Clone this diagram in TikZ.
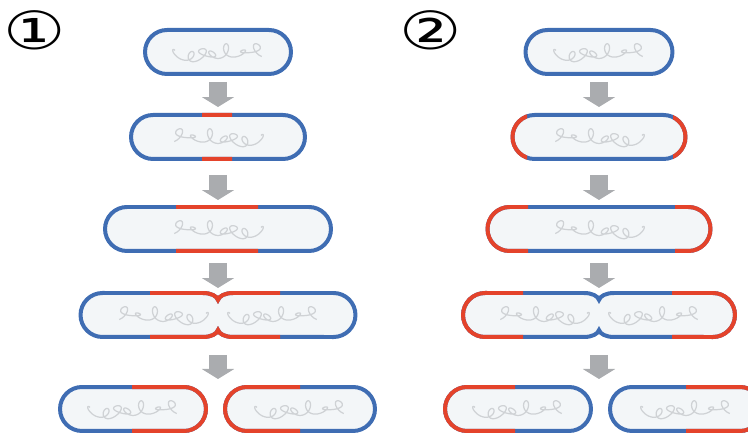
\documentclass[tikz,border=0pt]{standalone}
\usepackage{fontspec}
\newfontfamily\circfont{DejaVu Sans}
\usetikzlibrary{arrows.meta,calc}
\definecolor{cblue}{HTML}{3F6DB3}
\definecolor{cred}{HTML}{E4432B}
\definecolor{cellfill}{HTML}{F3F6F8}
\definecolor{dnagray}{HTML}{CFD2D5}
\definecolor{arrowgray}{HTML}{AAACAF}
\tikzset{
  cell/.style={rectangle,draw=cblue,fill=cellfill,line width=0.08cm,rounded corners=0.44cm,
    minimum height=0.88cm,inner sep=0pt,outer sep=0pt},
  spot/.style={rectangle,minimum height=0.88cm,inner sep=0pt,outer sep=0pt},
  wall/.style={line width=0.08cm},
  dna/.style={draw=dnagray,line width=0.7pt},
  divarrow/.style={draw=arrowgray,line width=0.36cm,-{Triangle[width=0.64cm,length=0.2cm]}},
  num/.style={font=\circfont\fontsize{30}{30}\selectfont,xscale=1.32,inner sep=0pt},
}
% outline of a cell that is pinching in two
\newcommand{\pinchpath}[1]{($(#1.north west)+(22,0)$) -- ($(#1.north)+(-15,0)$)
  .. controls ($(#1.north)+(-7,0)$) and ($(#1.north)+(-1,-3)$) .. ($(#1.north)+(0,-7)$)
  .. controls ($(#1.north)+(1,-3)$) and ($(#1.north)+(7,0)$) .. ($(#1.north)+(15,0)$)
  -- ($(#1.north east)+(-22,0)$) arc[start angle=90,end angle=-90,radius=22]
  -- ($(#1.south)+(15,0)$)
  .. controls ($(#1.south)+(7,0)$) and ($(#1.south)+(1,3)$) .. ($(#1.south)+(0,7)$)
  .. controls ($(#1.south)+(-1,3)$) and ($(#1.south)+(-7,0)$) .. ($(#1.south)+(-15,0)$)
  -- ($(#1.south west)+(22,0)$) arc[start angle=270,end angle=90,radius=22] -- cycle}
% new wall between x=#2 and x=#3
\newcommand{\redwall}[3]{\begin{scope}
  \clip (#2,0) rectangle (#3,436);
  \draw[wall,cred,rounded corners=0.44cm] (#1.south west) rectangle (#1.north east);
\end{scope}}
\newcommand{\redpinch}[3]{\begin{scope}
  \clip (#2,0) rectangle (#3,436);
  \draw[wall,cred] \pinchpath{#1};
\end{scope}}
% chromosome
\newcommand{\dna}[2][]{\draw[dna,shift={(#2)},#1] plot[domain=0:1,samples=300,variable=\t,smooth]
  ({-43+86*\t-6*sin(2340*\t)+3*sin(520*\t)},
   {4.5*cos(2340*\t)+7*\t-4.5+2.5*sin(1260*\t+40)+1.5*sin(3100*\t)});}

\begin{document}
\begin{tikzpicture}[x=0.02cm,y=0.02cm]
\useasboundingbox (0,0) rectangle (748,436);
\clip (0,0) rectangle (748,436);
\node (n1) [num] at (35,406) {①};
\node (n2) [num] at (431,406) {②};
%
\node (c11) [cell,minimum width=2.92cm] at (218,384) {};
\node (c12) [cell,minimum width=3.48cm] at (218,299) {};
\node (c13) [cell,minimum width=4.52cm] at (218,207) {};
\node (c14) [spot,minimum width=5.5cm] at (218,121) {};
\node (c15) [cell,minimum width=2.92cm] at (133,27) {};
\node (c16) [cell,minimum width=3.0cm] at (300,27) {};
\coordinate (m1) at (218,51);
\draw[wall,draw=cblue,fill=cellfill] \pinchpath{c14};
\redwall{c12}{202}{232}
\redwall{c13}{176}{258}
\redpinch{c14}{150}{280}
\redwall{c15}{132}{300}
\redwall{c16}{0}{300}
%
\node (c21) [cell,minimum width=2.94cm] at (599,384) {};
\node (c22) [cell,minimum width=3.46cm] at (599,299) {};
\node (c23) [cell,minimum width=4.46cm] at (599,207) {};
\node (c24) [spot,minimum width=5.44cm] at (599,121) {};
\node (c25) [cell,minimum width=2.92cm] at (518,27) {};
\node (c26) [cell,minimum width=3.04cm] at (686,27) {};
\coordinate (m2) at (599,51);
\draw[wall,draw=cblue,fill=cellfill] \pinchpath{c24};
\redwall{c22}{400}{527}
\redwall{c22}{673}{748}
\redwall{c23}{400}{528}
\redwall{c23}{675}{748}
\redpinch{c24}{400}{523}
\redpinch{c24}{672}{748}
\redwall{c25}{400}{515}
\redwall{c26}{686}{800}
%
\foreach \c in {c11,c15,c16,c21,c25,c26} {\dna{\c}}
\foreach \c in {c12,c13,c22,c23} {\dna[xscale=-1]{\c}}
\dna[xscale=-1]{$(c14)+(-55,0)$}
\dna{$(c14)+(55,0)$}
\dna[xscale=-1]{$(c24)+(-55,0)$}
\dna{$(c24)+(55,0)$}
%
\draw[divarrow,shorten <=0.16cm,shorten >=0.16cm] (c11) -- (c12);
\draw[divarrow,shorten <=0.32cm,shorten >=0.14cm] (c12) -- (c13);
\draw[divarrow,shorten <=0.24cm,shorten >=0.1cm] (c13) -- (c14);
\draw[divarrow,shorten <=0.36cm,shorten >=0.12cm] (c14) -- (m1);
\draw[divarrow,shorten <=0.16cm,shorten >=0.16cm] (c21) -- (c22);
\draw[divarrow,shorten <=0.32cm,shorten >=0.14cm] (c22) -- (c23);
\draw[divarrow,shorten <=0.24cm,shorten >=0.1cm] (c23) -- (c24);
\draw[divarrow,shorten <=0.36cm,shorten >=0.12cm] (c24) -- (m2);
\end{tikzpicture}
\end{document}
